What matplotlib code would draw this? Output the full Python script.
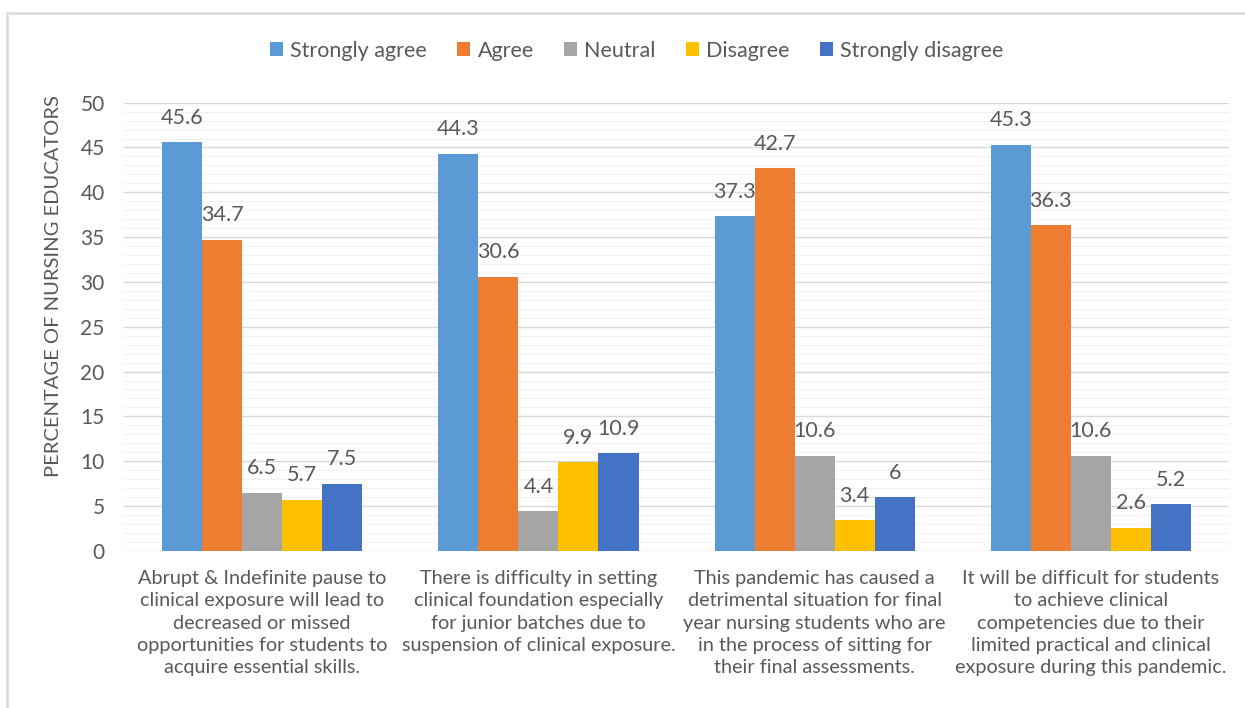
import numpy as np
import matplotlib.pyplot as plt
from matplotlib.patches import Rectangle

plt.rcParams['font.family'] = ['Lato', 'DejaVu Sans']

categories = [
    "Abrupt & Indefinite pause to\nclinical exposure will lead to\ndecreased or missed\nopportunities for students to\nacquire essential skills.",
    "There is difficulty in setting\nclinical foundation especially\nfor junior batches due to\nsuspension of clinical exposure.",
    "This pandemic has caused a\ndetrimental situation for final\nyear nursing students who are\nin the process of sitting for\ntheir final assessments.",
    "It will be difficult for students\nto achieve clinical\ncompetencies due to their\nlimited practical and clinical\nexposure during this pandemic.",
]
responses = ["Strongly agree", "Agree", "Neutral", "Disagree", "Strongly disagree"]
strongly_agree = [45.6, 44.3, 37.3, 45.3]
agree = [34.7, 30.6, 42.7, 36.3]
neutral = [6.5, 4.4, 10.6, 10.6]
disagree = [5.7, 9.9, 3.4, 2.6]
strongly_disagree = [7.5, 10.9, 6, 5.2]
series = [strongly_agree, agree, neutral, disagree, strongly_disagree]
colors = ['#5B9BD5', '#ED7D31', '#A5A5A5', '#FFC000', '#4472C4']

text_color = '#595959'

fig = plt.figure(figsize=(12.45, 7.08), dpi=100)
# light frame around the chart area
fig.patches.append(Rectangle((0.006, -0.01), 1.0, 0.9916, transform=fig.transFigure,
                             fill=False, edgecolor='#D9D9D9', linewidth=1.8))
ax = fig.add_axes([0.0996, 0.222, 0.8876, 0.633])

x = np.arange(len(categories))
width = 0.145
for i, (vals, name, c) in enumerate(zip(series, responses, colors)):
    pos = x + (i - 2) * width
    bars = ax.bar(pos, vals, width, color=c, label=name, zorder=3)
    for b, v in zip(bars, vals):
        ax.text(b.get_x() + b.get_width() / 2, v + 1.6, f"{v:g}", ha='center', va='bottom',
                fontsize=15.5, color=text_color)

ax.set_xlim(-0.5, 3.5)
ax.set_ylim(0, 50)
ax.set_yticks(np.arange(0, 51, 5))
ax.set_yticks(np.arange(0, 51, 1), minor=True)
ax.grid(axis='y', which='major', color='#D9D9D9', linewidth=1.0, zorder=0)
ax.grid(axis='y', which='minor', color='#F2F2F2', linewidth=0.8, zorder=0)
ax.tick_params(axis='both', which='both', length=0)
ax.tick_params(axis='y', labelsize=15, labelcolor=text_color, pad=14)
ax.set_xticks(x)
ax.set_xticklabels(categories, fontsize=14.3, color=text_color, linespacing=1.37)
ax.tick_params(axis='x', pad=14)
for s in ax.spines.values():
    s.set_visible(False)

ax.set_ylabel("PERCENTAGE OF NURSING EDUCATORS", fontsize=14.5, color=text_color)
ax.yaxis.set_label_coords(-0.056, 0.59)

ax.legend(loc='center', bbox_to_anchor=(0.464, 1.116), ncol=5, frameon=False,
          fontsize=15.5, handlelength=0.6, handleheight=0.6, handletextpad=0.35,
          columnspacing=1.4, labelcolor=text_color)

fig.savefig('out.png', dpi=100)
